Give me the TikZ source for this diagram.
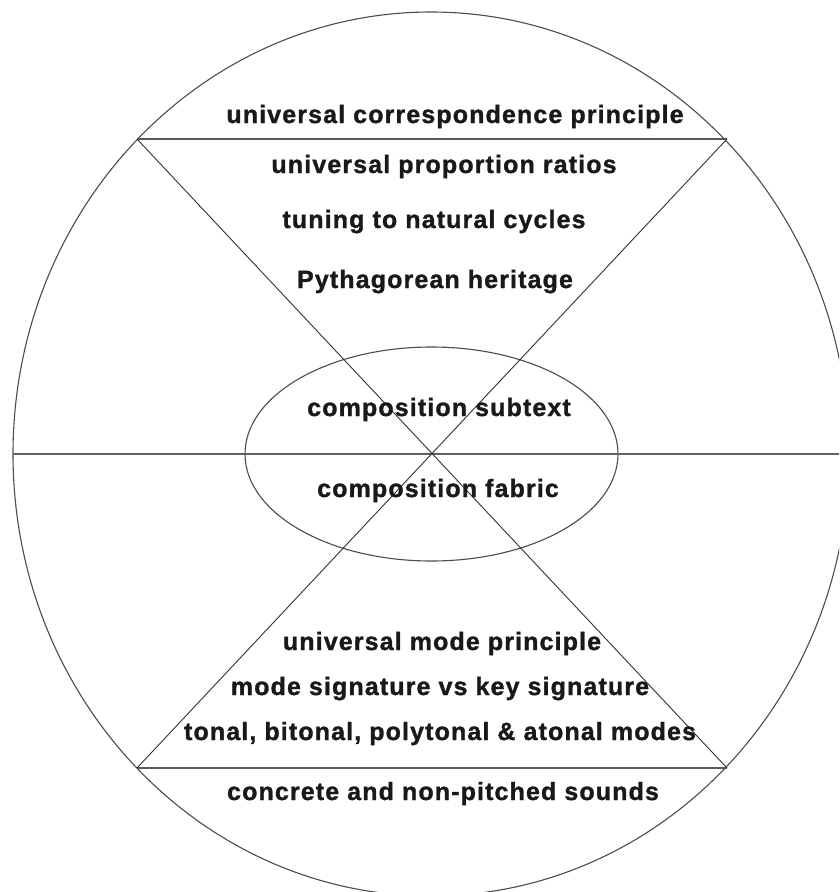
\documentclass[tikz,border=0pt]{standalone}
\usepackage{fontspec}
\setmainfont{Liberation Sans}[LetterSpace=4.5,BoldFeatures={FakeBold=1.2}]
\begin{document}
\begin{tikzpicture}[x=1pt,y=-1pt,
  lbl/.style={anchor=base,inner sep=0pt,text=black!90,font=\bfseries\fontsize{25}{29}\selectfont},
  thinline/.style={draw=black!80,line width=0.9pt},
  chord/.style={draw=black!65,line width=1.6pt},
  midline/.style={draw=black!62,line width=2pt},
  ringline/.style={draw=black!70,line width=1.1pt}]
\useasboundingbox (0,0) rectangle (839,892);
\clip (0,0) rectangle (839,892);
\fill[white] (0,0) rectangle (839,892);
% key points
\coordinate (C) at (431,454);
\coordinate (tl) at (137,139);
\coordinate (tr) at (727,139);
\coordinate (bl) at (137,768);
\coordinate (br) at (727,768);
\coordinate (ml) at (13,454);
\coordinate (mr) at (849,454);
% outer ring and inner ellipse
\draw[ringline] (C) ellipse [x radius=418, y radius=442];
\draw[ringline] (431.5,454) ellipse [x radius=186.5, y radius=107];
% lines
\draw[midline] (ml) -- (mr);
\draw[chord] (tl) -- (tr);
\draw[chord] (bl) -- (br);
\draw[thinline] (tl) -- (br);
\draw[thinline] (tr) -- (bl);
% labels
\node[lbl] (t1) at (455,123) {universal correspondence principle};
\node[lbl] (t2) at (444,173) {universal proportion ratios};
\node[lbl] (t3) at (434,228) {tuning to natural cycles};
\node[lbl] (t4) at (435,288) {Pythagorean heritage};
\node[lbl] (c1) at (439,416) {composition subtext};
\node[lbl] (c2) at (438,497) {composition fabric};
\node[lbl] (b1) at (442,650) {universal mode principle};
\node[lbl] (b2) at (440,695) {mode signature vs key signature};
\node[lbl] (b3) at (440,740) {tonal, bitonal, polytonal \& atonal modes};
\node[lbl] (b4) at (443,800) {concrete and non-pitched sounds};
\end{tikzpicture}
\end{document}
